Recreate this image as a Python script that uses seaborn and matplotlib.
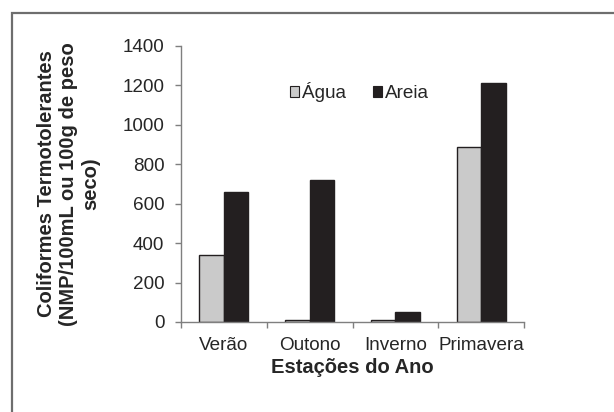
import pandas as pd
import matplotlib
matplotlib.use("Agg")
import matplotlib.pyplot as plt
from matplotlib.patches import Rectangle
import seaborn as sns

# ======================
# dados
# ======================
estacoes = ["Verão", "Outono", "Inverno", "Primavera"]
agua = [340, 10, 10, 890]
areia = [660, 720, 50, 1210]
series = ["Água", "Areia"]
yticks = [0, 200, 400, 600, 800, 1000, 1200, 1400]

df = pd.DataFrame({
    "estacao": estacoes * 2,
    "tipo": [series[0]] * len(estacoes) + [series[1]] * len(estacoes),
    "valor": agua + areia,
})

# ======================
# estilo
# ======================
sns.set_style("white")
plt.rcParams["font.family"] = ["Liberation Sans", "DejaVu Sans"]
FS = 13.6
FS_LAB = 14.5
GRAY_AX = "#7f7f7f"

fig = plt.figure(figsize=(6.14, 4.12), dpi=100)
ax = fig.add_axes([181 / 614, 1 - 322 / 412, 343 / 614, 276 / 412])

palette = {"Água": "#cacaca", "Areia": "#231f20"}
sns.barplot(data=df, x="estacao", y="valor", hue="tipo", order=estacoes,
            hue_order=series, palette=palette, width=0.57, gap=0,
            edgecolor="#231f20", linewidth=1.0, saturation=1, ax=ax)

ax.set_xlim(-0.5, len(estacoes) - 0.5)
ax.set_ylim(0, 1400)
ax.set_yticks(yticks)
ax.set_yticklabels([str(v) for v in yticks], fontsize=FS)

# eixo x: rótulos no centro, marcas entre categorias
ax.set_xticks(range(len(estacoes)))
ax.set_xticklabels(estacoes, fontsize=FS)
ax.set_xticks([i - 0.5 for i in range(len(estacoes) + 1)], minor=True)
ax.tick_params(axis="x", which="major", length=0, pad=11)
ax.tick_params(axis="x", which="minor", length=4, width=1, color=GRAY_AX,
               direction="out", bottom=True)
ax.tick_params(axis="y", length=4, width=1, color=GRAY_AX, direction="out",
               pad=8, left=True)

for side in ["top", "right"]:
    ax.spines[side].set_visible(False)
for side in ["left", "bottom"]:
    ax.spines[side].set_color(GRAY_AX)
    ax.spines[side].set_linewidth(1)

ax.set_xlabel("Estações do Ano", fontsize=FS_LAB, fontweight="bold", labelpad=3)
ax.set_ylabel("Coliformes Termotolerantes\n(NMP/100mL ou 100g de peso\nseco)",
              fontsize=FS_LAB, fontweight="bold", ha="center")
ax.yaxis.set_label_coords(-0.235, 0.5)

leg = ax.legend(loc="center", bbox_to_anchor=(0.52, 0.833), ncol=2,
                frameon=False, fontsize=FS, handlelength=0.5,
                handleheight=0.5, handletextpad=0.15, columnspacing=1.4)
for h in leg.legend_handles:
    h.set_edgecolor("#231f20")
    h.set_linewidth(0.8)

# moldura cinza (cortada à direita e embaixo, como na figura original)
fig.patches.append(Rectangle((12 / 614, -0.2), 1.2, 1 - 13 / 412 + 0.2,
                             transform=fig.transFigure, fill=False,
                             edgecolor="#6e6e6e", linewidth=1.6))

fig.savefig("out.png", dpi=100)
